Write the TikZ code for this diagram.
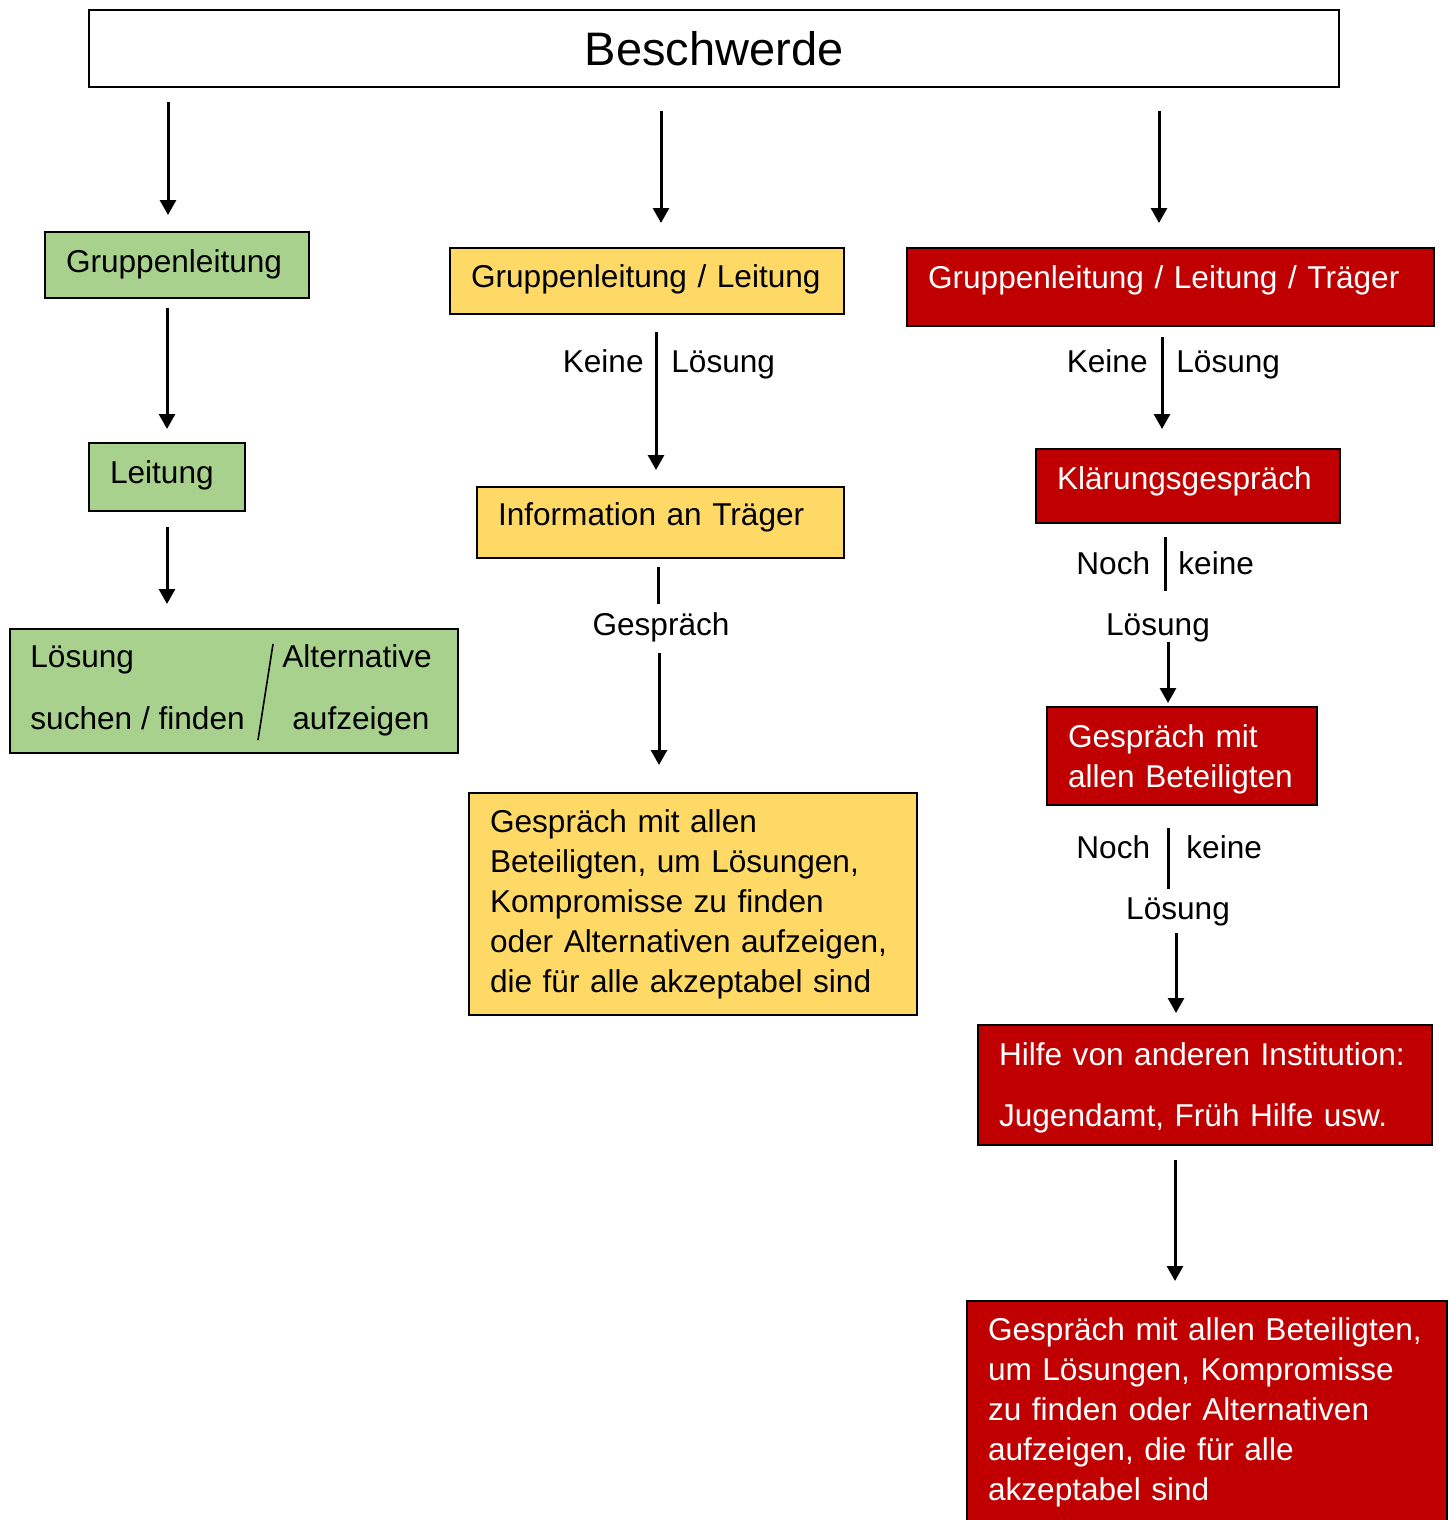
\documentclass[tikz,border=0pt]{standalone}
\usepackage{fontspec}
\setmainfont{Liberation Sans}
\usepackage{xcolor}
\usepackage{tikz}
\usetikzlibrary{arrows.meta}
\definecolor{gruen}{HTML}{A9D18E}
\definecolor{gelb}{HTML}{FFD966}
\definecolor{rot}{HTML}{C00000}
\newcommand{\kastenfont}{\fontsize{15.8}{20}\selectfont}
\newcommand{\kopffont}{\fontsize{23.5}{28}\selectfont}

\begin{document}
\begin{tikzpicture}[x=0.5pt, y=-0.5pt,
  kasten/.style={draw=black, line width=1pt, anchor=north west, inner xsep=10.5pt, inner ysep=0pt, align=left, font=\kastenfont},
  gkasten/.style={kasten, fill=gruen},
  ykasten/.style={kasten, fill=gelb},
  rkasten/.style={kasten, fill=rot, text=white},
  txt/.style={font=\kastenfont, inner sep=0pt},
  pfeil/.style={line width=1.5pt, -{Triangle[width=8pt,length=7.5pt]}},
  strich/.style={line width=1.5pt}]
  \useasboundingbox (0,0) rectangle (1450,1520);

  % Kopf
  \node[draw=black, line width=1pt, fill=white, anchor=north west, inner sep=0pt,
        minimum width=625pt, minimum height=38.5pt, font=\kopffont] (titel) at (88,9) {Beschwerde};

  % linke Spalte
  \node[gkasten, text width=111pt, minimum height=33pt, text depth=4.4pt] (gb1) at (44,231) {Gruppenleitung};
  \node[gkasten, text width=57pt, minimum height=34pt, text depth=5.4pt] (gb2) at (88,442) {Leitung};
  \node[gkasten, text width=203pt, minimum height=62pt] (gb3) at (9,628) {};
  \node[txt, anchor=base west] (gl1) at (30,667) {Lösung};
  \node[txt, anchor=base west] (gl2) at (30,729) {suchen / finden};
  \node[txt, anchor=base west] (gr1) at (282,667) {Alternative};
  \node[txt, anchor=base west] (gr2) at (292,729) {aufzeigen};
  \coordinate (s1) at (273,644);
  \coordinate (s2) at (258,740);
  \draw[line width=0.8pt] (s1) -- (s2);

  % mittlere Spalte
  \node[ykasten, text width=176pt, minimum height=33pt, text depth=5pt] (yb1) at (449,247) {\mbox{Gruppenleitung / Leitung}};
  \node[ykasten, text width=162.5pt, minimum height=35.5pt, text depth=8pt] (yb2) at (476,486) {Information an Träger};
  \node[ykasten, text width=203pt, minimum height=111pt] (yb3) at (468,792)
    {Gespräch mit allen\\Beteiligten, um Lösungen,\\Kompromisse zu finden\\oder Alternativen aufzeigen,\\die für alle akzeptabel sind};
  \node[txt, anchor=base east] (yk1) at (644,372) {Keine};
  \node[txt, anchor=base west] (yl1) at (671,372) {Lösung};
  \node[txt, anchor=base] (yg1) at (661,635) {Gespräch};

  % rechte Spalte
  \node[rkasten, text width=242.5pt, minimum height=39pt, text depth=10.4pt] (rb1) at (906,247) {Gruppenleitung / Leitung / Träger};
  \node[rkasten, text width=131pt, minimum height=37pt, text depth=8.4pt] (rb2) at (1035,448) {Klärungsgespräch};
  \node[rkasten, text width=114pt, minimum height=49pt, text depth=20.3pt] (rb3) at (1046,706) {Gespräch mit\\allen Beteiligten};
  \node[rkasten, text width=206pt, minimum height=60pt, text depth=30.8pt] (rb4) at (977,1024) {Hilfe von anderen Institution:\\[10.5pt]Jugendamt, Früh Hilfe usw.};
  \node[rkasten, text width=219pt, minimum height=111pt] (rb5) at (966,1300)
    {\mbox{Gespräch mit allen Beteiligten,}\\um Lösungen, Kompromisse\\zu finden oder Alternativen\\aufzeigen, die für alle\\akzeptabel sind};
  \node[txt, anchor=base east] (rk1) at (1148,372) {Keine};
  \node[txt, anchor=base west] (rl1) at (1176,372) {Lösung};
  \node[txt, anchor=base west] (rn1) at (1076,574) {Noch};
  \node[txt, anchor=base west] (rk2) at (1178,574) {keine};
  \node[txt, anchor=base] (rl2) at (1158,635) {Lösung};
  \node[txt, anchor=base west] (rn2) at (1076,858) {Noch};
  \node[txt, anchor=base west] (rk3) at (1186,858) {keine};
  \node[txt, anchor=base] (rl3) at (1178,919) {Lösung};

  % Pfeile
  \coordinate (p1a) at (168,102);  \coordinate (p1b) at (168,215);
  \coordinate (p2a) at (661,111);  \coordinate (p2b) at (661,223);
  \coordinate (p3a) at (1159,111); \coordinate (p3b) at (1159,223);
  \coordinate (p4a) at (167,308);  \coordinate (p4b) at (167,429);
  \coordinate (p5a) at (167,527);  \coordinate (p5b) at (167,604);
  \coordinate (p6a) at (656,332);  \coordinate (p6b) at (656,470);
  \coordinate (p7a) at (658,567);  \coordinate (p7b) at (658,604);
  \coordinate (p8a) at (659,653);  \coordinate (p8b) at (659,765);
  \coordinate (p9a) at (1162,337); \coordinate (p9b) at (1162,429);
  \coordinate (q1a) at (1165,537); \coordinate (q1b) at (1165,591);
  \coordinate (q2a) at (1168,642); \coordinate (q2b) at (1168,703);
  \coordinate (q3a) at (1168,828); \coordinate (q3b) at (1168,889);
  \coordinate (q4a) at (1176,933); \coordinate (q4b) at (1176,1013);
  \coordinate (q5a) at (1175,1160); \coordinate (q5b) at (1175,1281);
  \draw[pfeil] (p1a) -- (p1b);
  \draw[pfeil] (p2a) -- (p2b);
  \draw[pfeil] (p3a) -- (p3b);
  \draw[pfeil] (p4a) -- (p4b);
  \draw[pfeil] (p5a) -- (p5b);
  \draw[pfeil] (p6a) -- (p6b);
  \draw[strich] (p7a) -- (p7b);
  \draw[pfeil] (p8a) -- (p8b);
  \draw[pfeil] (p9a) -- (p9b);
  \draw[strich] (q1a) -- (q1b);
  \draw[pfeil] (q2a) -- (q2b);
  \draw[strich] (q3a) -- (q3b);
  \draw[pfeil] (q4a) -- (q4b);
  \draw[pfeil] (q5a) -- (q5b);
\end{tikzpicture}
\end{document}
